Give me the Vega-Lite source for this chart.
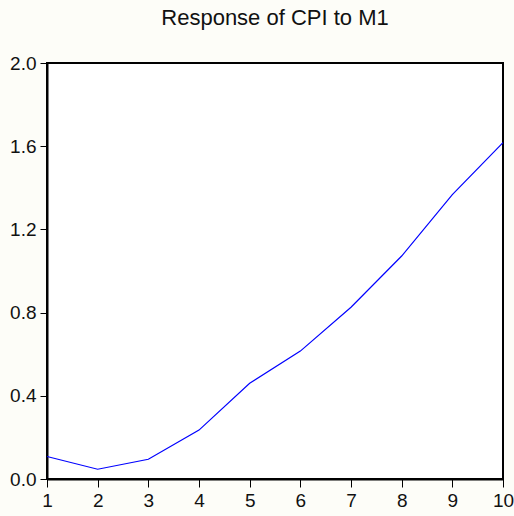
{
  "$schema": "https://vega.github.io/schema/vega-lite/v6.json",
  "autosize": {"type": "none"},
  "width": 456,
  "height": 416,
  "padding": {"left": 47, "top": 63, "right": 11, "bottom": 37},
  "background": "#FDFDF8",
  "title": {
    "text": "Response of CPI to M1",
    "font": "Liberation Sans",
    "fontSize": 22,
    "fontWeight": "normal",
    "color": "#111111",
    "anchor": "middle",
    "offset": 24
  },
  "config": {
    "view": {"stroke": "#000000", "strokeWidth": 2, "fill": "#FFFFFF"},
    "axis": {
      "labelFont": "Liberation Sans",
      "labelFontSize": 19,
      "labelColor": "#111111",
      "domainColor": "#000000",
      "domainWidth": 2,
      "tickColor": "#000000",
      "tickSize": 7,
      "grid": false,
      "title": null
    }
  },
  "data": {
    "values": [
      {"period": 1, "response": 0.108},
      {"period": 2, "response": 0.047},
      {"period": 3, "response": 0.095},
      {"period": 4, "response": 0.235},
      {"period": 5, "response": 0.46},
      {"period": 6, "response": 0.615},
      {"period": 7, "response": 0.826},
      {"period": 8, "response": 1.072},
      {"period": 9, "response": 1.367},
      {"period": 10, "response": 1.617}
    ]
  },
  "mark": {"type": "line", "color": "#0000FF", "strokeWidth": 1.2},
  "encoding": {
    "x": {
      "field": "period",
      "type": "quantitative",
      "scale": {"domain": [1, 10], "nice": false, "zero": false},
      "axis": {"values": [1,2,3,4,5,6,7,8,9,10], "format": "d", "tickSize": 8, "labelPadding": 4, "labelFlush": false}
    },
    "y": {
      "field": "response",
      "type": "quantitative",
      "scale": {"domain": [0, 2], "nice": false},
      "axis": {"values": [0, 0.4, 0.8, 1.2, 1.6, 2.0], "format": ".1f", "labelPadding": 4, "labelFlush": false}
    }
  }
}
